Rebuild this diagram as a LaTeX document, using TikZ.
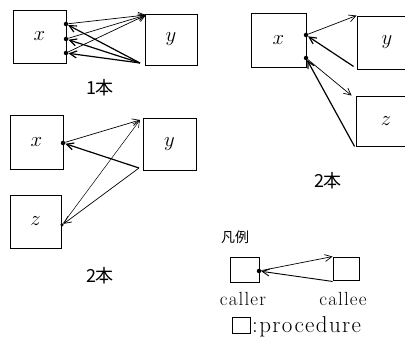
\documentclass[tikz,border=0pt]{standalone}
\usepackage{fontspec}
\newfontfamily\cjk{Noto Sans CJK JP}
\newfontfamily\widerm[LetterSpace=6]{Latin Modern Roman}
\usetikzlibrary{arrows.meta}
\tikzset{
  proc/.style={draw, line width=0.9pt, inner sep=0pt, font=\fontsize{22}{22}\selectfont},
  callarr/.style={-{Straight Barb[length=7pt,width=7pt]}, line width=0.7pt},
  retarr/.style={-{Straight Barb[length=7pt,width=7pt]}, line width=1.2pt},
  dotc/.style={circle, fill, inner sep=0pt, minimum size=4.5pt},
  lbl/.style={font=\cjk\fontsize{18}{18}\selectfont},
  txt/.style={font=\widerm\fontsize{19}{19}\selectfont}
}
\begin{document}
\begin{tikzpicture}[x=1pt,y=-1pt]
\useasboundingbox (0,0) rectangle (405,352);
% ---------- panel 1 ----------
\node[proc, minimum width=53pt, minimum height=53pt] (x1) at (39.5,36.5) {$x$};
\node[proc, minimum width=52pt, minimum height=51pt] (y1) at (171,39.5) {$y$};
\node[dotc] (a1) at (66,24) {};
\node[dotc] (a2) at (66,39) {};
\node[dotc] (a3) at (66,53) {};
\coordinate (y1in) at (146,15);
\coordinate (y1out) at (140,63);
\draw[callarr] (a1) -- (y1in);
\draw[callarr] (a2) -- (y1in);
\draw[callarr] (a3) -- (y1in);
\draw[retarr] (y1out) -- (a1);
\draw[retarr] (y1out) -- (a2);
\draw[retarr] (y1out) -- (a3);
\node[lbl] (l1) at (100,88) {1本};
% ---------- panel 2 ----------
\node[proc, minimum width=55pt, minimum height=54pt] (x2) at (278.5,40) {$x$};
\node[proc, minimum width=60pt, minimum height=53pt] (y2) at (387,42.5) {$y$};
\node[proc, minimum width=60pt, minimum height=50pt] (z2) at (386,121) {$z$};
\node[dotc] (b1) at (306,35) {};
\node[dotc] (b2) at (306,58) {};
\draw[callarr] (b1) -- (y2.north west);
\draw[retarr] ([xshift=-3pt,yshift=3pt]y2.south west) -- (b1);
\draw[callarr] (b2) -- ([xshift=-4pt]z2.north west);
\draw[retarr] ([xshift=-1pt]z2.south west) -- ([yshift=-5pt]b2);
\node[lbl] (l2) at (328,181) {2本};
% ---------- panel 3 ----------
\node[proc, minimum width=53pt, minimum height=54pt] (x3) at (36.5,142) {$x$};
\node[proc, minimum width=53pt, minimum height=52pt] (y3) at (169.5,144) {$y$};
\node[proc, minimum width=51pt, minimum height=53pt] (z3) at (35.5,221.5) {$z$};
\node[dotc] (c1) at (63,143) {};
\node[dotc, minimum size=3.5pt] (c2) at (62,225) {};
\coordinate (y3in) at (140,120);
\coordinate (y3out) at (139,168);
\draw[callarr] (c1) -- (y3in);
\draw[callarr, line width=0.5pt] (c2) -- (y3in);
\draw[retarr] (y3out) -- (c1);
\draw[callarr] (y3out) -- (c2);
\node[lbl] (l3) at (100,276) {2本};
% ---------- legend ----------
\node[font=\cjk\fontsize{14}{14}\selectfont] (hr) at (235,237) {凡例};
\node[proc, minimum width=29pt, minimum height=25pt] (caller) at (244.5,269.5) {};
\node[proc, minimum width=26pt, minimum height=23pt] (callee) at (346,268.5) {};
\node[dotc] (d1) at (259,271) {};
\draw[callarr] (d1) -- (callee.north west);
\draw[retarr, line width=0.9pt] ([yshift=-1pt]callee.south west) -- (d1);
\node[txt] (t1) at (243,299) {caller};
\node[txt] (t2) at (343,299) {callee};
\node[proc, minimum width=18pt, minimum height=16pt] (pbox) at (241,325) {};
\node[font=\widerm\fontsize{23}{23}\selectfont, anchor=west, inner sep=0pt] (pt) at (252,327) {:procedure};
\end{tikzpicture}
\end{document}
